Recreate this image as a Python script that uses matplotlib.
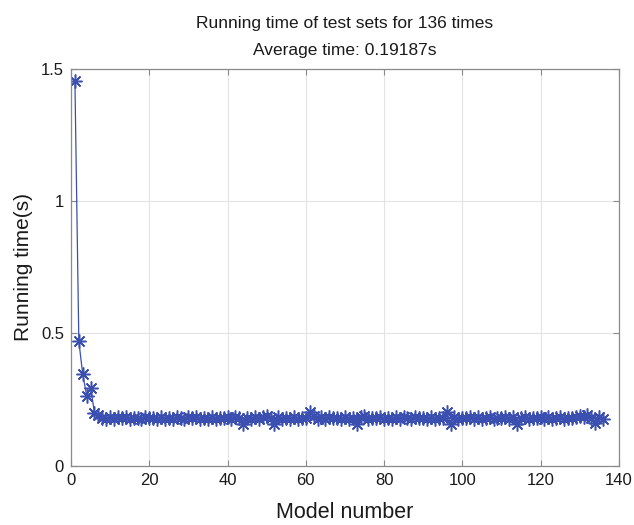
import matplotlib
matplotlib.use("Agg")
import matplotlib.pyplot as plt
import numpy as np

plt.rcParams['font.family'] = ['Liberation Sans', 'DejaVu Sans']

title_line1 = "Running time of test sets for 136 times"
title_line2 = "Average time: 0.19187s"
x_label = "Model number"
y_label = "Running time(s)"

run_times = [
    1.455, 0.470, 0.345, 0.265, 0.295, 0.200, 0.190, 0.182, 0.178, 0.185,
    0.176, 0.183, 0.179, 0.185, 0.177, 0.182, 0.180, 0.176, 0.184, 0.179,
    0.182, 0.177, 0.185, 0.178, 0.181, 0.176, 0.184, 0.180, 0.177, 0.183,
    0.179, 0.185, 0.176, 0.182, 0.178, 0.184, 0.177, 0.181, 0.179, 0.185,
    0.176, 0.183, 0.180, 0.157, 0.182, 0.178, 0.185, 0.177, 0.183, 0.186,
    0.179, 0.157, 0.184, 0.177, 0.181, 0.178, 0.185, 0.176, 0.182, 0.180,
    0.204, 0.186, 0.178, 0.183, 0.177, 0.184, 0.179, 0.182, 0.176, 0.185,
    0.178, 0.181, 0.157, 0.183, 0.186, 0.177, 0.182, 0.179, 0.184, 0.176,
    0.181, 0.178, 0.185, 0.177, 0.183, 0.180, 0.176, 0.184, 0.179, 0.182,
    0.177, 0.185, 0.178, 0.181, 0.182, 0.204, 0.158, 0.184, 0.177, 0.182,
    0.179, 0.185, 0.176, 0.183, 0.178, 0.181, 0.184, 0.177, 0.182, 0.179,
    0.185, 0.176, 0.183, 0.157, 0.181, 0.184, 0.177, 0.182, 0.179, 0.185,
    0.176, 0.183, 0.178, 0.181, 0.184, 0.177, 0.182, 0.179, 0.185, 0.188,
    0.184, 0.190, 0.181, 0.160, 0.183, 0.176,
]
model_numbers = list(range(1, len(run_times) + 1))

color = '#3A4FB0'

fig = plt.figure(figsize=(6.34, 5.25), dpi=100)
ax = fig.add_axes([0.112, 0.113, 0.864, 0.756])
ax.plot(model_numbers, run_times, color=color, lw=0.9, marker=(8, 2, 0),
        markersize=10, markeredgewidth=1.1, markerfacecolor=color, markeredgecolor=color)

ax.set_xlim(0, 140)
ax.set_ylim(0, 1.5)
ax.set_xticks(np.arange(0, 141, 20))
ax.set_yticks([0, 0.5, 1, 1.5])
ax.set_yticklabels(['0', '0.5', '1', '1.5'])
ax.grid(True, color='#E3E3E3', lw=0.8)
ax.set_axisbelow(True)
for s in ax.spines.values():
    s.set_color('#8a8a8a')
    s.set_linewidth(0.9)
ax.tick_params(direction='in', top=True, right=True, labelsize=12,
               labelcolor='#1a1a1a', color='#8a8a8a', length=4, width=0.8, pad=5)
ax.set_xlabel(x_label, fontsize=15.5, color='#1a1a1a', labelpad=10)
ax.set_ylabel(y_label, fontsize=15, color='#1a1a1a', labelpad=6)
ax.set_title(title_line1 + "\n" + title_line2, fontsize=12.5, color='#1a1a1a',
             linespacing=2.0, pad=10)

fig.savefig('out.png', dpi=100)
